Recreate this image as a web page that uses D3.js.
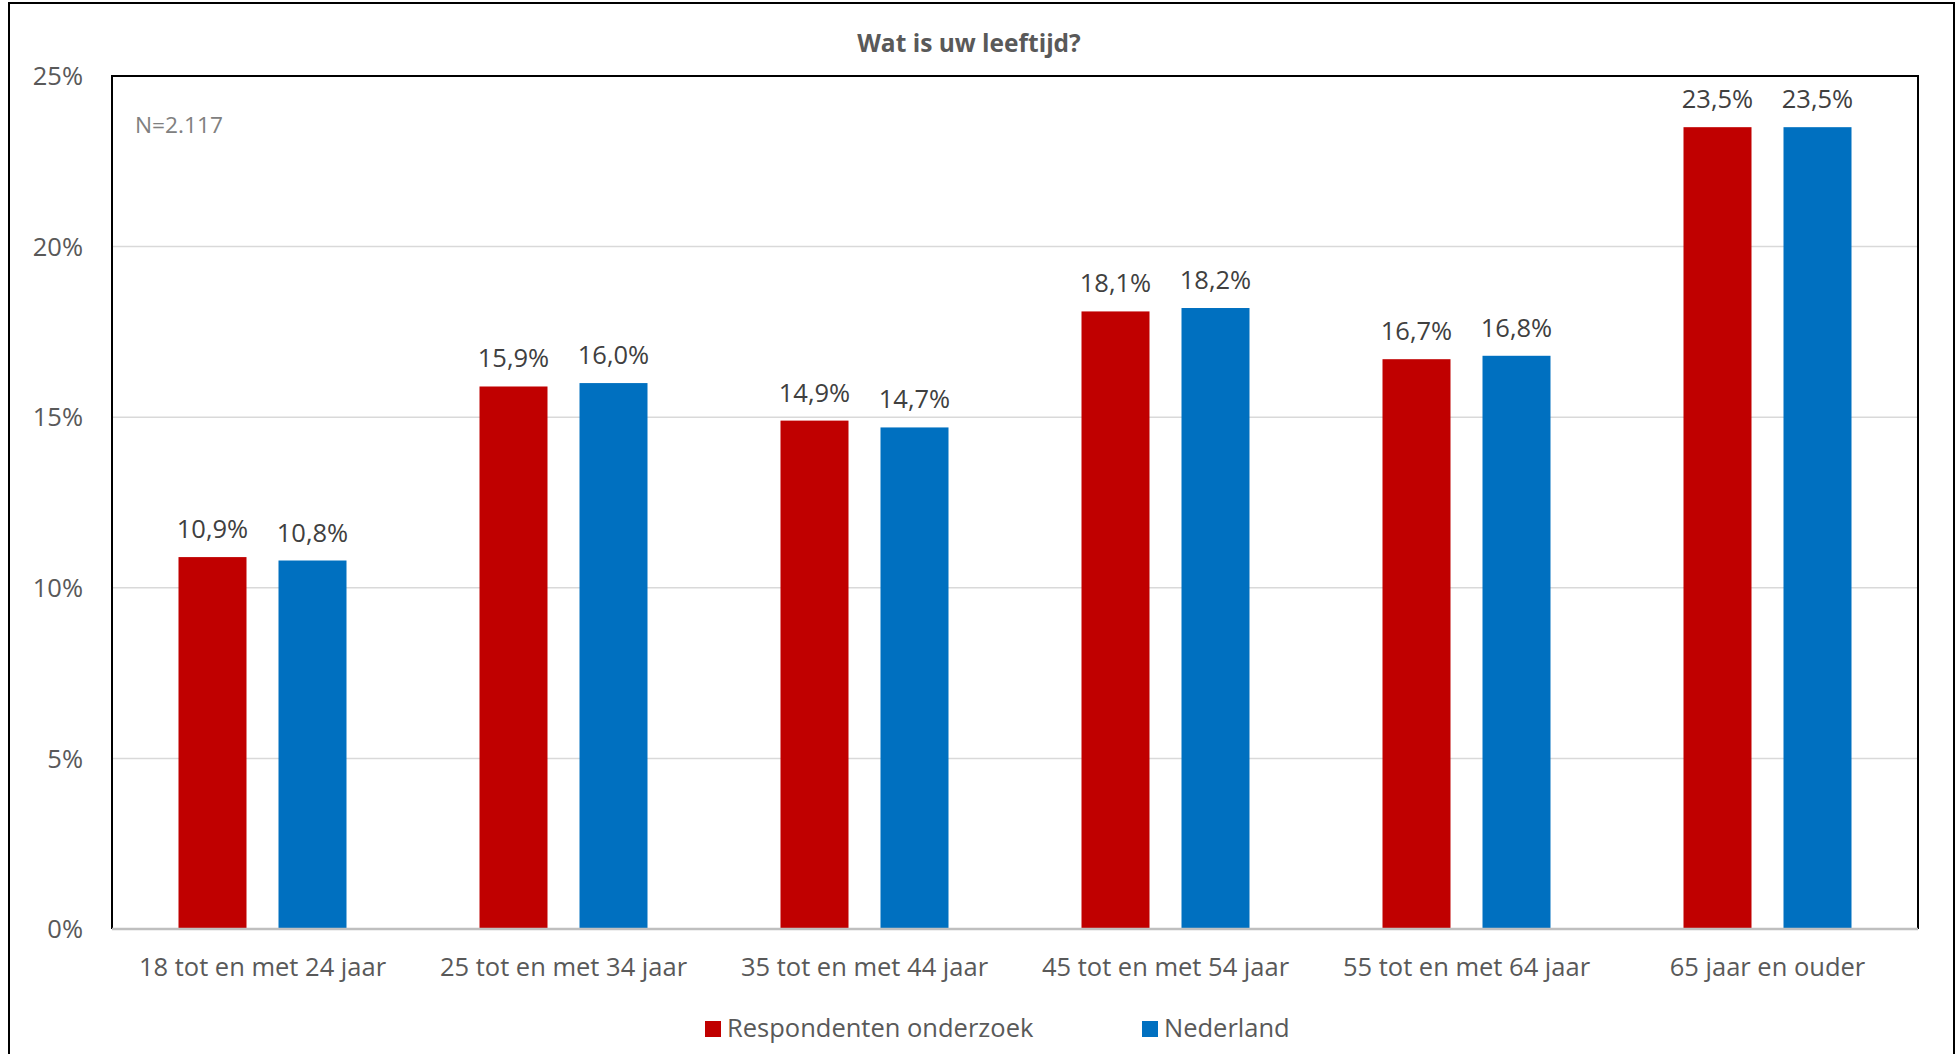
<!DOCTYPE html>
<html>
<head>
<meta charset="utf-8">
<script src="https://cdn.jsdelivr.net/npm/d3@7"></script>
<style>
  html, body { margin: 0; padding: 0; background: #fff; }
  svg { display: block; }
  text { font-family: "Open Sans", sans-serif; }
</style>
</head>
<body>
<svg id="chart" width="1959" height="1054"></svg>
<script>
const title = "Wat is uw leeftijd?";
const note = "N=2.117";
const categories = ["18 tot en met 24 jaar", "25 tot en met 34 jaar", "35 tot en met 44 jaar", "45 tot en met 54 jaar", "55 tot en met 64 jaar", "65 jaar en ouder"];
const seriesNames = ["Respondenten onderzoek", "Nederland"];
const respondenten = [10.9, 15.9, 14.9, 18.1, 16.7, 23.5];
const nederland = [10.8, 16.0, 14.7, 18.2, 16.8, 23.5];
const yTicks = [0, 5, 10, 15, 20, 25];
const colors = ["#C00000", "#0070C0"];

const seriesValues = [respondenten, nederland];
const svg = d3.select("#chart");
const plot = { left: 112, right: 1918, top: 76, bottom: 929 };

// outer border
svg.append("rect").attr("x", 9).attr("y", 3).attr("width", 1945).attr("height", 1070)
  .attr("fill", "#fff").attr("stroke", "#000").attr("stroke-width", 2);

const x0 = d3.scaleBand().domain(categories).range([plot.left, plot.right]).paddingInner(0).paddingOuter(0);
const x1 = d3.scaleBand().domain(seriesNames).range([0, x0.bandwidth()]).paddingInner(0.32).paddingOuter(0.665);
const y = d3.scaleLinear().domain([0, 25]).range([plot.bottom, plot.top]);

// gridlines
svg.append("g").selectAll("line").data(yTicks.filter(t => t > 0 && t < 25)).join("line")
  .attr("x1", plot.left).attr("x2", plot.right)
  .attr("y1", d => y(d)).attr("y2", d => y(d))
  .attr("stroke", "#d9d9d9").attr("stroke-width", 1.5);

// y axis labels
const yAxis = d3.axisLeft(y).tickValues(yTicks).tickFormat(d => d + "%").tickSize(0).tickPadding(0);
const yg = svg.append("g").attr("transform", `translate(83,0)`).call(yAxis);
yg.select(".domain").remove();
yg.selectAll("text").attr("font-size", 25.5).attr("fill", "#595959")
  .attr("font-family", "'Open Sans', sans-serif").attr("dy", "0.34em");

// bars
const groups = svg.append("g").selectAll("g").data(categories).join("g")
  .attr("transform", d => `translate(${x0(d)},0)`);
groups.selectAll("rect").data((d, i) => seriesNames.map((s, j) => ({ s, j, v: seriesValues[j][i] }))).join("rect")
  .attr("x", d => x1(d.s)).attr("width", x1.bandwidth())
  .attr("y", d => y(d.v)).attr("height", d => y(0) - y(d.v))
  .attr("fill", d => colors[d.j]);
groups.selectAll("text").data((d, i) => seriesNames.map((s, j) => ({ s, j, v: seriesValues[j][i] }))).join("text")
  .attr("x", d => x1(d.s) + x1.bandwidth() / 2).attr("y", d => y(d.v) - 19)
  .attr("text-anchor", "middle").attr("font-size", 25.5).attr("fill", "#404040")
  .text(d => d.v.toFixed(1).replace(".", ",") + "%");

// x axis
const xAxis = d3.axisBottom(x0).tickSize(0).tickPadding(0);
const xg = svg.append("g").attr("transform", `translate(0,${plot.bottom})`).call(xAxis);
xg.select(".domain").remove();
xg.selectAll("text").attr("font-size", 25.5).attr("fill", "#595959")
  .attr("font-family", "'Open Sans', sans-serif").attr("dy", 0).attr("y", 47);

// plot border (left, top, right black), bottom axis gray
svg.append("path")
  .attr("d", `M${plot.left},${plot.bottom} V${plot.top} H${plot.right} V${plot.bottom}`)
  .attr("fill", "none").attr("stroke", "#000").attr("stroke-width", 2);
svg.append("line").attr("x1", plot.left).attr("x2", plot.right)
  .attr("y1", plot.bottom).attr("y2", plot.bottom)
  .attr("stroke", "#bfbfbf").attr("stroke-width", 2.5);

// title
svg.append("text").attr("x", 969).attr("y", 52).attr("text-anchor", "middle")
  .attr("font-size", 24.5).attr("font-weight", "bold").attr("fill", "#595959").text(title);

// note
svg.append("text").attr("x", 135).attr("y", 133).attr("font-size", 22.7).attr("fill", "#808080").text(note);

// legend
const legendX = [705, 1142];
const lg = svg.append("g").selectAll("g").data(seriesNames).join("g")
  .attr("transform", (d, i) => `translate(${legendX[i]},1021)`);
lg.append("rect").attr("width", 16).attr("height", 16).attr("fill", (d, i) => colors[i]);
lg.append("text").attr("x", 22).attr("y", 16).attr("font-size", 25.5).attr("fill", "#595959").text(d => d);
</script>
</body>
</html>
